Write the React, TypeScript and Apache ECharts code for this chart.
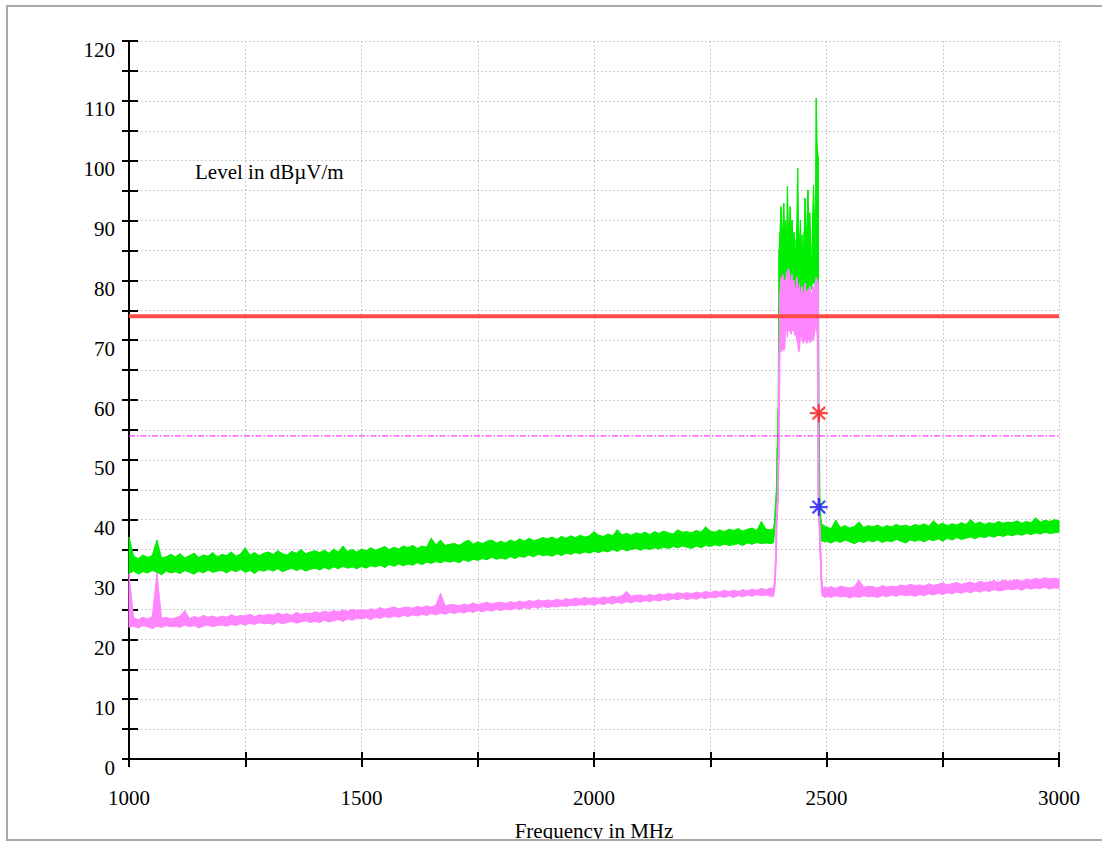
import React, { useEffect, useRef } from "react";
import * as echarts from "echarts";

// ---- sampling segments (frequency in MHz) ----
const SEG1_START = 1000; const SEG1_STEP = 10; // 1000..2380
const SEG2_START = 2382; const SEG2_STEP = 2;  // 2382..2498
const SEG3_START = 2500; const SEG3_STEP = 10; // 2500..3000

// Peak trace (green) envelope, segment 1
const pkHi1 = [
  37.1, 33.9, 33.5, 34.1, 33.7, 34.0, 36.6, 33.6, 33.8, 34.2,
  33.8, 34.3, 33.6, 34.0, 34.4, 33.7, 34.1, 33.9, 34.5, 33.8,
  34.2, 34.0, 34.6, 33.9, 34.3, 35.3, 34.1, 34.5, 34.0, 34.4,
  34.6, 34.2, 34.8, 34.3, 34.1, 34.7, 34.4, 35.0, 34.3, 34.6,
  34.8, 34.5, 34.9, 34.4, 35.1, 34.6, 35.6, 34.7, 35.0, 34.6,
  35.1, 34.8, 35.3, 34.9, 35.2, 35.5, 35.0, 35.4, 35.1, 35.6,
  35.3, 35.7, 35.2, 35.6, 35.4, 36.9, 35.8, 36.6, 35.7, 35.9,
  36.0, 35.7, 36.2, 36.6, 35.9, 36.3, 36.0, 36.4, 36.6, 36.1,
  36.4, 36.1, 36.6, 36.3, 36.8, 36.4, 36.9, 36.5, 36.7, 37.0,
  36.8, 37.1, 36.7, 37.2, 36.9, 37.3, 37.0, 37.4, 37.1, 37.3,
  38.0, 37.4, 37.2, 37.6, 37.3, 38.3, 37.5, 37.7, 37.4, 37.8,
  37.6, 37.9, 37.5, 38.0, 37.7, 38.1, 37.8, 37.6, 38.3, 37.9,
  38.0, 37.8, 38.2, 37.9, 38.8, 38.1, 37.9, 38.3, 38.0, 38.4,
  38.2, 38.5, 38.1, 38.4, 38.6, 38.2, 39.7, 38.4, 38.3,
];
const pkLo1 = [
  31.0, 31.4, 30.9, 31.3, 31.1, 31.5, 31.2, 30.8, 31.4, 31.1,
  31.3, 31.0, 31.5, 31.2, 30.9, 31.4, 31.1, 31.6, 31.2, 31.4,
  31.5, 31.1, 31.6, 31.3, 31.7, 31.2, 31.5, 31.0, 31.6, 31.4,
  31.7, 31.4, 31.8, 31.3, 31.6, 31.9, 31.5, 31.8, 31.4, 31.7,
  31.9, 31.6, 32.0, 31.7, 32.1, 31.8, 32.2, 31.9, 32.1, 31.8,
  32.2, 31.9, 32.3, 32.1, 32.4, 32.0, 32.5, 32.2, 32.6, 32.3,
  32.6, 32.4, 32.8, 32.5, 32.9, 32.7, 33.0, 32.8, 33.1, 32.9,
  33.1, 32.8, 33.3, 33.0, 33.4, 33.2, 33.5, 33.3, 33.7, 33.4,
  33.6, 33.4, 33.8, 33.5, 33.9, 33.7, 34.1, 33.8, 34.2, 34.0,
  34.1, 33.9, 34.3, 34.0, 34.4, 34.2, 34.5, 34.3, 34.6, 34.4,
  34.7, 34.5, 34.8, 34.6, 35.0, 34.7, 35.1, 34.8, 35.0, 35.2,
  34.9, 35.2, 35.0, 35.3, 35.1, 35.4, 35.2, 35.5, 35.3, 35.6,
  35.4, 35.2, 35.6, 35.3, 35.7, 35.5, 35.8, 35.6, 35.9, 35.7,
  35.8, 36.0, 35.7, 36.1, 35.9, 36.2, 36.0, 36.1, 36.0,
];
// Average trace (magenta) envelope, segment 1
const avHi1 = [
  31.0, 23.6, 23.3, 23.7, 23.4, 23.8, 31.1, 23.5, 23.7, 23.4,
  23.6, 23.9, 24.8, 23.5, 23.8, 23.6, 24.0, 23.7, 23.9, 23.6,
  23.9, 23.7, 24.1, 23.8, 24.0, 23.9, 24.2, 23.8, 24.1, 24.0,
  24.2, 24.0, 24.4, 24.1, 24.3, 24.0, 24.5, 24.2, 24.4, 24.3,
  24.6, 24.4, 24.7, 24.5, 24.8, 24.6, 24.9, 24.7, 25.0, 24.8,
  25.0, 24.8, 25.1, 24.9, 25.3, 25.0, 25.2, 25.4, 25.1, 25.3,
  25.4, 25.2, 25.5, 25.3, 25.6, 25.4, 25.7, 27.7, 25.6, 25.8,
  25.8, 25.6, 25.9, 25.7, 26.1, 25.8, 26.0, 26.2, 25.9, 26.1,
  26.2, 26.0, 26.3, 26.1, 26.4, 26.2, 26.5, 26.3, 26.6, 26.4,
  26.6, 26.4, 26.7, 26.5, 26.8, 26.6, 26.9, 26.7, 27.0, 26.8,
  27.0, 26.8, 27.1, 26.9, 27.2, 27.0, 27.3, 28.0, 27.2, 27.4,
  27.4, 27.2, 27.5, 27.3, 27.6, 27.4, 27.7, 27.5, 27.8, 27.6,
  27.8, 27.6, 27.9, 27.7, 28.0, 27.8, 28.1, 27.9, 28.2, 28.0,
  28.2, 28.0, 28.3, 28.1, 28.4, 28.2, 28.5, 28.3, 28.6,
];
const avLo1 = [
  22.0, 22.2, 21.9, 22.3, 22.1, 21.8, 22.2, 22.0, 22.3, 22.1,
  22.2, 22.0, 22.4, 22.1, 22.3, 21.9, 22.2, 22.4, 22.1, 22.3,
  22.4, 22.2, 22.5, 22.3, 22.6, 22.4, 22.7, 22.5, 22.8, 22.6,
  22.7, 22.5, 22.9, 22.6, 22.8, 23.0, 22.7, 22.9, 23.1, 22.8,
  23.0, 22.8, 23.2, 22.9, 23.1, 23.3, 23.0, 23.4, 23.2, 23.5,
  23.4, 23.6, 23.3, 23.7, 23.5, 23.8, 23.6, 23.9, 23.7, 24.0,
  23.8, 24.1, 23.9, 24.2, 24.0, 24.3, 24.1, 24.4, 24.2, 24.5,
  24.3, 24.6, 24.4, 24.7, 24.5, 24.8, 24.6, 24.9, 24.7, 25.0,
  24.8, 25.1, 24.9, 25.2, 25.0, 25.3, 25.1, 25.4, 25.2, 25.5,
  25.3, 25.5, 25.4, 25.6, 25.5, 25.7, 25.6, 25.8, 25.7, 25.9,
  25.7, 26.0, 25.8, 26.1, 25.9, 26.2, 26.0, 26.3, 26.1, 26.4,
  26.2, 26.5, 26.3, 26.6, 26.4, 26.7, 26.5, 26.8, 26.6, 26.9,
  26.6, 26.9, 26.7, 27.0, 26.8, 27.1, 26.9, 27.2, 27.0, 27.3,
  27.0, 27.3, 27.1, 27.4, 27.2, 27.5, 27.3, 27.4, 27.2,
];

// Segment 2: the 2.4 GHz band (2382..2498, 2 MHz)
const pkHi2 = [
  38.4, 38.3, 38.6, 39.5, 42.0, 44.5, 52.0, 58.5, 85.0, 88.0,
  92.3, 86.0, 89.0, 92.9, 87.0, 90.0, 85.0, 95.7, 89.0, 87.9,
  92.3, 86.0, 90.0, 84.5, 88.0, 86.7, 82.0, 89.0, 98.7, 88.0,
  86.7, 90.0, 85.0, 87.6, 83.0, 88.0, 93.7, 89.0, 88.4, 95.1,
  89.0, 91.3, 86.0, 82.0, 90.0, 95.9, 91.0, 88.4, 110.4, 102.3,
  100.7, 57.8, 43.5, 40.0, 38.8, 39.2, 38.7, 39.0, 38.6,
];
const pkLo2 = [
  36.0, 36.2, 36.1, 37.5, 39.5, 42.0, 44.5, 52.0, 58.5, 80.5,
  81.0, 79.5, 80.0, 81.5, 80.0, 79.0, 80.5, 81.0, 79.5, 80.0,
  78.5, 79.0, 80.5, 79.0, 78.0, 79.5, 77.5, 79.0, 78.5, 77.0,
  78.0, 77.5, 79.0, 78.0, 77.5, 79.0, 78.5, 79.5, 78.0, 79.0,
  78.5, 80.0, 79.0, 78.5, 80.0, 79.5, 80.5, 79.0, 81.0, 80.0,
  58.0, 43.5, 40.0, 37.5, 36.4, 36.3, 36.6, 36.2, 36.5,
];
const avHi2 = [
  28.5, 28.4, 28.7, 29.5, 33.0, 40.0, 43.0, 50.0, 68.0, 78.0,
  80.5, 79.0, 81.0, 78.5, 80.0, 79.5, 81.5, 80.0, 82.0, 81.5,
  80.0, 79.5, 81.0, 78.5, 80.0, 79.0, 77.5, 80.5, 79.0, 78.0,
  79.5, 77.0, 78.5, 79.0, 77.5, 78.0, 79.5, 78.0, 77.0, 78.5,
  77.5, 79.0, 78.0, 77.5, 78.5, 79.0, 78.0, 79.5, 80.5, 80.0,
  79.5, 42.0, 39.0, 34.5, 30.0, 28.6, 28.5, 28.8, 28.6,
];
const avLo2 = [
  27.1, 27.3, 27.2, 28.0, 29.5, 33.0, 40.0, 43.0, 50.0, 68.5,
  68.0, 68.4, 68.8, 68.2, 68.6, 72.5, 72.0, 70.5, 72.5, 71.5,
  72.0, 71.0, 72.3, 71.5, 72.0, 70.8, 71.5, 70.0, 69.5, 68.0,
  68.5, 70.5, 71.0, 70.0, 69.5, 70.5, 69.8, 70.2, 69.5, 70.5,
  70.0, 69.6, 70.4, 69.8, 70.6, 70.0, 71.0, 72.0, 72.5, 71.0,
  42.0, 39.0, 34.5, 30.0, 27.6, 27.1, 27.3, 27.0, 27.2,
];

// Segment 3: 2500..3000 (10 MHz)
const pkHi3 = [
  38.8, 38.5, 39.9, 38.7, 39.0, 38.6, 38.9, 39.6, 38.7, 39.0,
  38.8, 39.1, 38.7, 39.0, 38.8, 39.2, 38.9, 39.1, 38.8, 39.2,
  39.0, 39.3, 38.9, 39.8, 39.1, 39.4, 39.0, 39.3, 39.1, 39.5,
  39.2, 40.0, 39.3, 39.6, 39.2, 39.5, 39.3, 39.7, 39.4, 39.6,
  39.5, 39.8, 39.4, 39.7, 39.5, 40.3, 39.6, 39.9, 39.7, 40.0,
  39.8,
];
const pkLo3 = [
  36.4, 36.1, 36.5, 36.2, 36.6, 36.3, 36.0, 36.4, 36.2, 36.5,
  36.3, 36.6, 36.2, 36.5, 36.3, 36.7, 36.4, 36.1, 36.6, 36.4,
  36.6, 36.3, 36.7, 36.5, 36.8, 36.4, 36.9, 36.6, 37.0, 36.7,
  36.9, 37.1, 36.8, 37.2, 37.0, 37.3, 37.1, 37.4, 37.2, 37.5,
  37.3, 37.6, 37.4, 37.7, 37.5, 37.8, 37.6, 37.9, 37.7, 37.8,
  37.9,
];
const avHi3 = [
  28.6, 28.8, 28.5, 28.9, 28.7, 28.6, 28.8, 29.9, 28.7, 28.9,
  28.8, 28.6, 29.0, 28.7, 28.9, 28.8, 29.1, 28.9, 29.2, 29.0,
  29.1, 28.9, 29.3, 29.0, 29.2, 29.4, 29.1, 29.3, 29.5, 29.2,
  29.4, 29.6, 29.3, 29.7, 29.5, 29.6, 29.8, 29.5, 29.9, 29.7,
  29.8, 30.0, 29.7, 30.1, 29.9, 30.2, 30.0, 30.3, 30.1, 30.2,
  30.1,
];
const avLo3 = [
  27.2, 27.0, 27.3, 27.1, 27.2, 26.9, 27.2, 27.0, 27.3, 27.1,
  27.2, 27.0, 27.3, 27.1, 27.4, 27.2, 27.5, 27.3, 27.4, 27.2,
  27.5, 27.3, 27.6, 27.4, 27.7, 27.5, 27.8, 27.6, 27.9, 27.7,
  28.0, 27.8, 28.1, 27.9, 28.2, 28.0, 28.3, 28.1, 28.2, 28.4,
  28.3, 28.5, 28.2, 28.6, 28.4, 28.6, 28.5, 28.7, 28.4, 28.6,
  28.5,
];

// Limits and markers
const LIMIT_PEAK = 74;
const LIMIT_AVG = 54;
const FREQ_RANGE = [1000, 3000];
const MARKER_PEAK = [2483.5, 57.8];
const MARKER_AVG = [2483.5, 42.1];

const GREEN = "#00ee00";
const PINK = "#ff85ff";
const FONT = '"Liberation Serif", "Times New Roman", serif';

function freqs(): number[] {
  const f: number[] = [];
  pkHi1.forEach((_, i) => f.push(SEG1_START + i * SEG1_STEP));
  pkHi2.forEach((_, i) => f.push(SEG2_START + i * SEG2_STEP));
  pkHi3.forEach((_, i) => f.push(SEG3_START + i * SEG3_STEP));
  return f;
}

// one quad per pair of neighbouring samples: [f0, lo0, hi0, f1, lo1, hi1]
function quads(lo: number[], hi: number[]) {
  const f = freqs();
  const out: number[][] = [];
  for (let i = 0; i < f.length - 1; i++) {
    out.push([f[i], lo[i], hi[i], f[i + 1], lo[i + 1], hi[i + 1]]);
  }
  return out;
}

function bandSeries(data: number[][], color: string, z: number) {
  return {
    type: "custom",
    coordinateSystem: "cartesian2d",
    silent: true,
    z,
    data,
    encode: { x: [0, 3], y: [1, 2, 4, 5] },
    renderItem: (_p: any, api: any) => {
      const a = api.coord([api.value(0), api.value(1)]);
      const b = api.coord([api.value(0), api.value(2)]);
      const c = api.coord([api.value(3), api.value(5)]);
      const d = api.coord([api.value(3), api.value(4)]);
      return {
        type: "polygon",
        shape: { points: [a, b, c, d] },
        style: { fill: color, stroke: color, lineWidth: 1 },
      };
    },
  };
}

const ASTERISK = "path://M10,0 L10,20 M0,10 L20,10 M3,3 L17,17 M3,17 L17,3";

export default function App() {
  const ref = useRef<HTMLDivElement>(null);
  useEffect(() => {
    if (!ref.current) return;
    const chart = echarts.init(ref.current, undefined, { renderer: "svg" });
    const pk = quads([...pkLo1, ...pkLo2, ...pkLo3], [...pkHi1, ...pkHi2, ...pkHi3]);
    const av = quads([...avLo1, ...avLo2, ...avLo3], [...avHi1, ...avHi2, ...avHi3]);

    const grid = { left: 129, right: 43, top: 41, bottom: 83 };
    const splitStyle = { color: "#bdbdbd", width: 1, type: [1.5, 2.5] as any };

    const xBase = {
      type: "value" as const, min: 1000, max: 3000, interval: 250,
      position: "bottom" as const,
    };
    const yBase = { type: "value" as const, min: 0, max: 120, interval: 5, position: "left" as const };

    chart.setOption({
      animation: false,
      grid,
      xAxis: [
        {
          ...xBase,
          axisLine: { onZero: false, lineStyle: { color: "#000", width: 2 } },
          axisTick: { inside: false, length: 8, lineStyle: { color: "#000", width: 2 } },
          axisLabel: {
            margin: 28, color: "#000", fontFamily: FONT, fontSize: 21, lineHeight: 21,
            formatter: (v: number) => (v % 500 === 0 ? String(v) : ""),
          },
          splitLine: { show: true, lineStyle: splitStyle },
        },
        {
          ...xBase,
          axisLine: { onZero: false, lineStyle: { color: "#000", width: 2 } },
          axisTick: { inside: true, length: 7, lineStyle: { color: "#000", width: 2 } },
          axisLabel: { show: false },
          splitLine: { show: false },
        },
      ],
      yAxis: [
        {
          ...yBase,
          axisLine: { show: true, onZero: false, lineStyle: { color: "#000", width: 2 } },
          axisTick: { show: true, inside: false, length: 7, lineStyle: { color: "#000", width: 2 } },
          axisLabel: {
            margin: 14, color: "#000", fontFamily: FONT, fontSize: 21, lineHeight: 17,
            verticalAlign: "top",
            formatter: (v: number) => (v % 10 === 0 ? String(v) : ""),
          },
          splitLine: { show: true, lineStyle: splitStyle },
        },
        {
          ...yBase,
          axisLine: { show: true, onZero: false, lineStyle: { color: "#000", width: 2 } },
          axisTick: { show: true, inside: true, length: 9, lineStyle: { color: "#000", width: 2 } },
          axisLabel: { show: false },
          splitLine: { show: false },
        },
      ],
      graphic: [
        {
          type: "text", x: 195, y: 172,
          style: { text: "Level in dBµV/m", font: `21px ${FONT}`, fill: "#000", verticalAlign: "middle" },
        },
        {
          type: "text", x: 594, y: 831,
          style: { text: "Frequency in MHz", font: `21px ${FONT}`, fill: "#000", align: "center", verticalAlign: "middle" },
        },
      ],
      series: [
        bandSeries(pk, GREEN, 2),
        bandSeries(av, PINK, 3),
        {
          type: "line", data: [[FREQ_RANGE[0], LIMIT_PEAK], [FREQ_RANGE[1], LIMIT_PEAK]],
          symbol: "none", silent: true, lineStyle: { color: "#ff4a4a", width: 4 }, z: 4,
        },
        {
          type: "line", data: [[FREQ_RANGE[0], LIMIT_AVG], [FREQ_RANGE[1], LIMIT_AVG]],
          symbol: "none", silent: true, lineStyle: { color: "#ff33ff", width: 1.4, type: [6, 2, 1.5, 2] }, z: 4,
        },
        {
          type: "scatter", data: [MARKER_PEAK], symbol: ASTERISK, symbolSize: 18, silent: true,
          itemStyle: { color: "rgba(0,0,0,0)", borderColor: "#ff1a1a", borderWidth: 2.2 }, z: 5,
        },
        {
          type: "scatter", data: [MARKER_AVG], symbol: ASTERISK, symbolSize: 18, silent: true,
          itemStyle: { color: "rgba(0,0,0,0)", borderColor: "#1a1aff", borderWidth: 2.2 }, z: 5,
        },
      ],
    });
    return () => chart.dispose();
  }, []);

  return (
    <div
      style={{
        position: "fixed", left: 6, top: 5, width: 1110, height: 836,
        border: "2px solid #a8a8a8", boxSizing: "border-box", overflow: "hidden", background: "#fff",
      }}
    >
      <div ref={ref} style={{ position: "absolute", left: -8, top: -7, width: 1102, height: 842 }} />
    </div>
  );
}
